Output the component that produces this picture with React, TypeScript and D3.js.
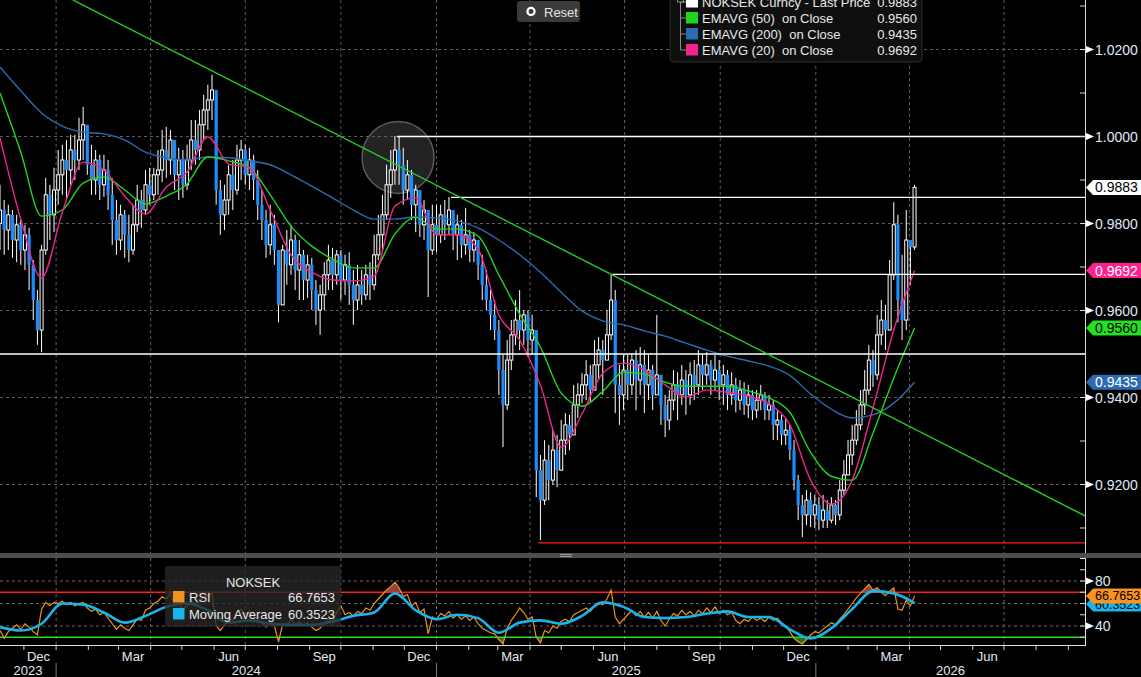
import React from "react";
import * as d3 from "d3";

// ---------- time layout ----------
const START = new Date(2023, 10, 8);
const AXIS_END = new Date(2026, 8, 17);
const CANDLE_STEP_DAYS = 4;
const LINE_STEP_DAYS = 20;

// ---------- price data (in 1/10000, e.g. 9883 = 0.9883) ----------
const firstOpen = 9800;
const closes = [
  9831, 9785, 9820, 9762, 9797, 9739, 9774, 9705, 9624, 9555, 9739,
  9866, 9820, 9877, 9912, 9946, 9923, 9969, 9946, 9992, 10027,
  9935, 9900, 9946, 9889, 9923, 9866, 9808, 9762, 9820, 9774,
  9739, 9797, 9854, 9831, 9889, 9866, 9912, 9923, 9969, 9946,
  9992, 9912, 9946, 9889, 9946, 9992, 9969, 10027, 10061, 10084,
  10107, 9877, 9820, 9854, 9912, 9877, 9946, 9969, 9912, 9946,
  9900, 9843, 9808, 9751, 9797, 9739, 9613, 9739, 9705, 9762,
  9693, 9728, 9670, 9705, 9647, 9601, 9636, 9682, 9716, 9682,
  9728, 9670, 9705, 9659, 9624, 9659, 9636, 9682, 9659, 9728,
  9774, 9820, 9889, 9923, 9969, 9935, 9877, 9912, 9843, 9877,
  9797, 9831, 9739, 9797, 9774, 9820, 9797, 9831, 9774, 9797,
  9751, 9774, 9739, 9762, 9705, 9659, 9624, 9590, 9555, 9463,
  9383, 9486, 9544, 9578, 9555, 9590, 9532, 9555, 9233, 9164,
  9256, 9210, 9279, 9233, 9302, 9337, 9314, 9383, 9406, 9429,
  9452, 9417, 9475, 9509, 9486, 9544, 9624, 9429, 9406, 9463,
  9429, 9486, 9440, 9475, 9429, 9463, 9406, 9452, 9383, 9348,
  9394, 9429, 9406, 9440, 9406, 9452, 9429, 9475, 9452, 9475,
  9440, 9463, 9429, 9452, 9406, 9429, 9394, 9417, 9383, 9406,
  9371, 9394, 9406, 9371, 9383, 9337, 9348, 9314, 9325, 9279,
  9210, 9153, 9130, 9164, 9130, 9153, 9118, 9141, 9118, 9153,
  9130, 9187, 9222, 9268, 9302, 9337, 9383, 9417, 9486, 9452,
  9544, 9578, 9555, 9682, 9797, 9624, 9578, 9762, 9746, 9883,
];
const highs = [
  9889, 9854, 9843, 9831, 9820, 9808, 9797, 9790, 9716, 9647, 9751,
  9905, 9889, 9928, 9969, 9981, 9992, 10004, 10004, 10043, 10068,
  10015, 9981, 9969, 9958, 9958, 9946, 9905, 9854, 9843, 9831,
  9820, 9843, 9889, 9877, 9923, 9928, 9928, 9969, 10015, 10022,
  10015, 9981, 9974, 9969, 9981, 10038, 10038, 10061, 10096, 10119,
  10142, 10096, 9900, 9889, 9935, 9946, 9981, 9992, 9981, 9974,
  9958, 9923, 9877, 9831, 9843, 9820, 9728, 9751, 9785, 9797,
  9774, 9762, 9739, 9728, 9721, 9670, 9659, 9711, 9751, 9744,
  9739, 9739, 9728, 9734, 9693, 9705, 9693, 9705, 9711, 9774,
  9820, 9866, 9935, 9969, 10001, 10001, 9974, 9946, 9923, 9889,
  9877, 9854, 9831, 9843, 9843, 9843, 9854, 9861, 9831, 9820,
  9808, 9836, 9785, 9780, 9751, 9728, 9693, 9647, 9624, 9578,
  9498, 9532, 9578, 9624, 9647, 9601, 9601, 9590, 9509, 9268,
  9302, 9291, 9325, 9314, 9348, 9364, 9360, 9429, 9433, 9456,
  9486, 9475, 9532, 9539, 9532, 9601, 9682, 9647, 9475, 9498,
  9498, 9502, 9509, 9516, 9509, 9498, 9475, 9590, 9452, 9406,
  9417, 9463, 9458, 9475, 9463, 9481, 9486, 9509, 9498, 9504,
  9486, 9498, 9486, 9475, 9463, 9458, 9445, 9440, 9435, 9429,
  9417, 9417, 9429, 9412, 9406, 9394, 9371, 9360, 9353, 9337,
  9302, 9222, 9176, 9187, 9182, 9176, 9171, 9176, 9164, 9171,
  9164, 9210, 9256, 9302, 9337, 9371, 9417, 9463, 9521, 9509,
  9590, 9624, 9613, 9716, 9849, 9820, 9728, 9831, 9751, 9889,
];
const lows = [
  9739, 9728, 9739, 9721, 9711, 9705, 9693, 9647, 9578, 9521, 9504,
  9728, 9762, 9780, 9843, 9866, 9854, 9889, 9900, 9923, 9946,
  9912, 9866, 9866, 9854, 9861, 9831, 9751, 9728, 9739, 9721,
  9711, 9728, 9780, 9790, 9820, 9843, 9854, 9866, 9895, 9905,
  9912, 9877, 9854, 9859, 9877, 9923, 9935, 9946, 9992, 10015,
  10038, 9843, 9774, 9785, 9820, 9831, 9866, 9900, 9889, 9877,
  9854, 9808, 9762, 9721, 9728, 9705, 9573, 9624, 9659, 9682,
  9647, 9624, 9624, 9629, 9601, 9567, 9544, 9601, 9647, 9647,
  9659, 9624, 9636, 9613, 9567, 9601, 9613, 9624, 9624, 9647,
  9716, 9739, 9808, 9859, 9889, 9889, 9843, 9854, 9808, 9780,
  9769, 9762, 9631, 9728, 9734, 9755, 9762, 9774, 9739, 9716,
  9721, 9728, 9711, 9711, 9670, 9624, 9601, 9555, 9532, 9406,
  9286, 9371, 9463, 9521, 9509, 9521, 9493, 9498, 9171, 9072,
  9153, 9164, 9199, 9194, 9256, 9268, 9279, 9348, 9353, 9387,
  9394, 9389, 9429, 9440, 9406, 9509, 9532, 9364, 9337, 9371,
  9394, 9406, 9371, 9406, 9364, 9394, 9371, 9406, 9337, 9309,
  9325, 9371, 9348, 9383, 9360, 9383, 9394, 9406, 9417, 9429,
  9406, 9417, 9394, 9383, 9371, 9383, 9366, 9371, 9360, 9353,
  9348, 9353, 9371, 9348, 9348, 9302, 9302, 9291, 9291, 9256,
  9187, 9118, 9079, 9107, 9102, 9100, 9095, 9100, 9100, 9111,
  9107, 9118, 9176, 9222, 9245, 9291, 9325, 9360, 9406, 9424,
  9440, 9521, 9509, 9624, 9670, 9573, 9532, 9555, 9659, 9739,
];

// ---------- moving averages (every 20 days, from START) ----------
const ema20 = [
  9997, 9810, 9675, 9826, 9941, 9923, 9863, 9822, 9884, 9918,
  9999, 9937, 9928, 9831, 9728, 9688, 9670, 9668, 9679, 9840,
  9859, 9774, 9774, 9741, 9590, 9532, 9429, 9286, 9362, 9456,
  9479, 9463, 9429, 9401, 9417, 9412, 9403, 9385, 9337, 9210,
  9155, 9210, 9376, 9555, 9692,
];
const ema50 = [
  10100, 9964, 9817, 9831, 9893, 9907, 9877, 9845, 9863, 9891,
  9953, 9944, 9928, 9866, 9794, 9748, 9718, 9698, 9698, 9776,
  9814, 9787, 9787, 9771, 9682, 9592, 9516, 9410, 9380, 9414,
  9458, 9454, 9435, 9426, 9426, 9426, 9415, 9399, 9366, 9274,
  9219, 9210, 9318, 9445, 9560,
];
const ema200 = [
  10160, 10105, 10054, 10024, 10010, 10006, 9992, 9964, 9951, 9946,
  9953, 9951, 9944, 9935, 9912, 9886, 9859, 9831, 9810, 9810,
  9815, 9813, 9806, 9790, 9762, 9728, 9688, 9642, 9599, 9576,
  9567, 9553, 9541, 9525, 9509, 9495, 9484, 9472, 9451, 9408,
  9373, 9353, 9360, 9387, 9435,
];

// ---------- RSI ----------
const rsi = [
  36, 29, 35, 38, 41, 37, 42, 39, 35, 32, 55,
  61, 58, 61, 60, 62, 59, 61, 58, 60, 61,
  56, 53, 55, 50, 52, 47, 42, 37, 41, 38,
  36, 41, 46, 45, 54, 56, 60, 62, 66, 64,
  69, 58, 60, 55, 58, 62, 59, 62, 65, 67,
  69, 40, 36, 41, 47, 45, 52, 55, 50, 53,
  49, 46, 43, 39, 44, 40, 26, 42, 40, 46,
  41, 44, 40, 43, 39, 36, 38, 43, 46, 43,
  52, 58, 50, 52, 49, 53, 51, 56, 54, 60,
  64, 68, 72, 75, 79, 74, 66, 68, 58, 61,
  52, 55, 33, 48, 46, 51, 49, 53, 47, 50,
  46, 49, 45, 48, 42, 38, 36, 34, 33, 28,
  24, 38, 45, 50, 56, 52, 46, 48, 30, 25,
  36, 34, 40, 38, 44, 46, 44, 50, 52, 54,
  56, 53, 58, 61, 59, 64, 72, 48, 42, 46,
  50, 54, 49, 53, 48, 52, 47, 53, 45, 40,
  46, 51, 49, 54, 50, 53, 49, 54, 51, 56,
  52, 57, 51, 54, 50, 52, 45, 42, 46, 44,
  48, 45, 47, 44, 48, 45, 47, 43, 40, 35,
  29, 26, 24, 28, 32, 35, 34, 37, 40, 43,
  41, 46, 50, 55, 60, 65, 69, 73, 77, 72,
  74, 70, 67, 71, 74, 55, 54, 63, 58, 66.7653,
];
const rsiMA = [
  39, 36, 42, 60, 59, 52, 43, 49, 57, 60,
  54, 43, 45, 42, 41, 41, 44, 49, 52, 69,
  54, 46, 50, 47, 34, 43, 45, 42, 49, 61,
  57, 48, 47, 48, 51, 53, 48, 48, 37, 29,
  38, 55, 71, 69, 60.3523,
];

// ---------- axes / annotations ----------
const priceTicks = [0.92, 0.94, 0.96, 0.98, 1.0, 1.02];
const priceMinor = [0.91, 0.93, 0.95, 0.97, 0.99, 1.01, 1.03];
const rsiTicks = [40, 80];
const rsiMinor = [30, 50, 60, 70, 90, 100];
const rsiGrid = [40, 60, 80];
const levelLines = [
  { value: 1.0, from: "2024-11-24", color: "#ffffff" },
  { value: 0.986, from: "2025-01-15", color: "#ffffff" },
  { value: 0.9683, from: "2025-06-19", color: "#ffffff" },
  { value: 0.95, from: "2023-11-08", color: "#ffffff" },
  { value: 0.9066, from: "2025-04-09", color: "#ff2020" },
];
const trendPoints = [
  { date: "2024-01-17", value: 1.0314 },
  { date: "2026-09-17", value: 0.9128 },
];
const circleMark = { date: "2024-11-25", value: 0.9952 };

const FONT = "'Liberation Sans', Arial, sans-serif";
const AXIS_TXT = "#e1e9f5";
const C_EMA20 = "#f0248c";
const C_EMA50 = "#1fd61f";
const C_EMA200 = "#2d6bb0";
const C_RSI = "#f0921e";
const C_MA = "#19b4ea";

const pd = (s: string) => d3.timeParse("%Y-%m-%d")(s) as Date;

export default function App() {
  const W = 1141, H = 677;
  const PR = 1085;
  const MAIN_BOT = 553;
  const RSI_TOP = 558, RSI_BOT = 646;

  const x = d3.scaleTime().domain([START, AXIS_END]).range([0, PR]);
  const y = d3.scaleLinear().domain([0.92, 1.02]).range([484.5, 49.5]);
  const yr = d3.scaleLinear().domain([40, 80]).range([626, 581]);

  const cDate = (i: number) => d3.timeDay.offset(START, i * CANDLE_STEP_DAYS);
  const lDate = (k: number) => d3.timeDay.offset(START, k * LINE_STEP_DAYS);

  const priceLine = d3
    .line<number>()
    .x((_, k) => x(lDate(k)))
    .y((v) => y(v / 10000))
    .curve(d3.curveMonotoneX);

  const rsiLine = d3
    .line<number>()
    .x((_, i) => x(cDate(i)))
    .y((v) => yr(v));
  const maLine = d3
    .line<number>()
    .x((_, k) => x(lDate(k)))
    .y((v) => yr(v))
    .curve(d3.curveMonotoneX);
  const rsiArea = (base: number) =>
    d3
      .area<number>()
      .x((_, i) => x(cDate(i)))
      .y0(yr(base))
      .y1((v) => yr(v));

  const quarters = d3.timeMonth
    .every(3)!
    .range(new Date(2024, 0, 1), AXIS_END);
  const months = d3.timeMonth.range(d3.timeMonth.ceil(START), AXIS_END);
  const monthLabels = months
    .filter((m) => [11, 2, 5, 8].includes(m.getMonth()))
    .map((m) => ({ d: new Date(m.getFullYear(), m.getMonth(), 15), t: d3.timeFormat("%b")(m) }))
    .filter((o) => x(o.d) < 1060);
  const years = [2023, 2024, 2025, 2026].map((yy) => {
    const a = Math.max(+START, +new Date(yy, 0, 1));
    const b = Math.min(+AXIS_END, +new Date(yy + 1, 0, 1));
    return { yy, cx: (x(new Date(a)) + x(new Date(b))) / 2 };
  });
  const yearStarts = [2024, 2025, 2026].map((yy) => new Date(yy, 0, 1));

  const fmt4 = d3.format(".4f");
  const last = (a: number[]) => a[a.length - 1];

  const tag = (yc: number, fill: string, txtFill: string, label: string, key: string, fs = 14) => (
    <g key={key}>
      <path
        d={`M1086,${yc} L1093,${yc - 7.5} L1141,${yc - 7.5} L1141,${yc + 7.5} L1093,${yc + 7.5} Z`}
        fill={fill}
      />
      <text x={1095} y={yc} dy="0.36em" fontSize={fs} fill={txtFill} fontFamily={FONT}>
        {label}
      </text>
    </g>
  );

  const tp = trendPoints.map((p) => [x(pd(p.date)), y(p.value)]);

  const legendRows = [
    { c: "#ffffff", t: "NOKSEK Curncy - Last Price", v: fmt4(last(closes) / 10000) },
    { c: C_EMA50, t: "EMAVG (50)  on Close", v: fmt4(last(ema50) / 10000) },
    { c: C_EMA200, t: "EMAVG (200)  on Close", v: fmt4(last(ema200) / 10000) },
    { c: C_EMA20, t: "EMAVG (20)  on Close", v: fmt4(last(ema20) / 10000) },
  ];

  return (
    <div style={{ width: W, height: H, background: "#000" }}>
      <style>{"html,body{margin:0;padding:0;background:#000;overflow:hidden}"}</style>
      <svg width={W} height={H} style={{ display: "block" }} fontFamily={FONT}>
        <defs>
          <clipPath id="mainClip">
            <rect x={0} y={0} width={PR} height={MAIN_BOT} />
          </clipPath>
          <clipPath id="rsiClip">
            <rect x={0} y={RSI_TOP} width={PR} height={RSI_BOT - RSI_TOP} />
          </clipPath>
          <clipPath id="obClip">
            <rect x={0} y={RSI_TOP} width={PR} height={yr(70) - RSI_TOP} />
          </clipPath>
          <clipPath id="osClip">
            <rect x={0} y={yr(30)} width={PR} height={RSI_BOT - yr(30)} />
          </clipPath>
        </defs>
        <rect x={0} y={0} width={W} height={H} fill="#000" />

        {/* ---------- main panel ---------- */}
        <g clipPath="url(#mainClip)">
          {priceTicks.map((t) => (
            <line key={"hg" + t} x1={0} x2={PR} y1={y(t)} y2={y(t)} stroke="#5e5e5e" strokeDasharray="3,3" />
          ))}
          {quarters.map((q) => (
            <line key={"vg" + +q} x1={x(q)} x2={x(q)} y1={0} y2={MAIN_BOT} stroke="#5e5e5e" strokeDasharray="3,3" />
          ))}

          {/* highlight circle */}
          <circle
            cx={x(pd(circleMark.date))}
            cy={y(circleMark.value)}
            r={36}
            fill="rgba(110,110,110,0.32)"
            stroke="#5a5a5a"
            strokeWidth={1.5}
          />

          {/* candles */}
          {closes.map((c, i) => {
            const o = i === 0 ? firstOpen : closes[i - 1];
            const up = c >= o;
            const cx = x(cDate(i));
            const top = y(Math.max(o, c) / 10000);
            const bot = y(Math.min(o, c) / 10000);
            const h = Math.max(1, bot - top);
            return (
              <g key={"c" + i}>
                <line x1={cx} x2={cx} y1={y(highs[i] / 10000)} y2={y(lows[i] / 10000)} stroke="#ffffff" strokeWidth={1} />
                {up ? (
                  <rect x={cx - 1.5} y={top} width={3} height={h} fill="#000" stroke="#ffffff" strokeWidth={1} />
                ) : (
                  <rect x={cx - 1.6} y={top} width={3.2} height={h} fill="#1b8cff" />
                )}
              </g>
            );
          })}

          {/* moving averages */}
          <path d={priceLine(ema200)!} fill="none" stroke={C_EMA200} strokeWidth={1.4} />
          <path d={priceLine(ema50)!} fill="none" stroke={C_EMA50} strokeWidth={1.4} />
          <path d={priceLine(ema20)!} fill="none" stroke={C_EMA20} strokeWidth={1.4} />

          {/* levels */}
          {levelLines.map((l) => (
            <line
              key={"lv" + l.value}
              x1={x(pd(l.from))}
              x2={PR}
              y1={y(l.value)}
              y2={y(l.value)}
              stroke={l.color}
              strokeWidth={1.3}
            />
          ))}
          <line x1={tp[0][0]} y1={tp[0][1]} x2={tp[1][0]} y2={tp[1][1]} stroke="#22d022" strokeWidth={1.4} />
        </g>

        {/* main right axis */}
        <line x1={PR + 0.5} x2={PR + 0.5} y1={0} y2={MAIN_BOT} stroke="#d8d8d8" />
        {priceMinor.map((t) => (
          <line key={"pm" + t} x1={PR - 5} x2={PR} y1={y(t)} y2={y(t)} stroke="#d8d8d8" />
        ))}
        {priceTicks.map((t) => (
          <g key={"pt" + t}>
            <line x1={PR - 5} x2={PR} y1={y(t)} y2={y(t)} stroke="#d8d8d8" />
            <path d={`M${PR + 1},${y(t) - 3.5} L${PR + 9},${y(t)} L${PR + 1},${y(t) + 3.5} Z`} fill="#ffffff" />
            <text x={PR + 10} y={y(t)} dy="0.36em" fontSize={14} fill={AXIS_TXT}>
              {fmt4(t)}
            </text>
          </g>
        ))}
        {tag(y(last(closes) / 10000), "#ffffff", "#000", fmt4(last(closes) / 10000), "t1")}
        {tag(y(last(ema20) / 10000), "#ff1f8f", "#ffffff", fmt4(last(ema20) / 10000), "t2")}
        {tag(y(last(ema50) / 10000), "#22e022", "#000", fmt4(last(ema50) / 10000), "t3")}
        {tag(y(last(ema200) / 10000), "#2d6bb0", "#ffffff", fmt4(last(ema200) / 10000), "t4")}

        {/* top legend */}
        <g>
          <rect x={670} y={-6} width={252} height={68} rx={4} fill="#0f0f0f" stroke="#2e2e2e" />
          <line x1={680.5} x2={680.5} y1={0} y2={50} stroke="#8a8a8a" />
          <rect x={677.5} y={-4} width={6} height={6} fill="#0f0f0f" stroke="#8a8a8a" />
          {legendRows.map((r, k) => {
            const base = 7 + k * 16;
            return (
              <g key={"lg" + k}>
                <line x1={680.5} x2={686} y1={base - 5} y2={base - 5} stroke="#8a8a8a" />
                <rect x={686} y={base - 11} width={12} height={11.5} fill={r.c} />
                <text x={702} y={base} fontSize={13} fill="#e8e8e8" style={{ whiteSpace: "pre" }}>
                  {r.t}
                </text>
                <text x={917} y={base} fontSize={13} fill="#e8e8e8" textAnchor="end">
                  {r.v}
                </text>
              </g>
            );
          })}
        </g>

        {/* reset button */}
        <g>
          <rect x={517} y={1} width={63} height={21} rx={3} fill="#3a3a3a" />
          <circle cx={531} cy={11.5} r={3.6} fill="none" stroke="#ffffff" strokeWidth={2.3} />
          <text x={544} y={16.5} fontSize={13} fill="#e4e4e4">
            Reset
          </text>
        </g>

        {/* separator */}
        <rect x={0} y={MAIN_BOT} width={W} height={5} fill="#4d4d4d" />
        <line x1={560} x2={572} y1={554.5} y2={554.5} stroke="#9a9a9a" />
        <line x1={560} x2={572} y1={556.5} y2={556.5} stroke="#9a9a9a" />

        {/* ---------- RSI panel ---------- */}
        <g clipPath="url(#rsiClip)">
          {rsiGrid.map((t) => (
            <line key={"rg" + t} x1={0} x2={PR} y1={yr(t)} y2={yr(t)} stroke="#666" strokeDasharray="3,3" />
          ))}
          {quarters.map((q) => (
            <line key={"rvg" + +q} x1={x(q)} x2={x(q)} y1={RSI_TOP} y2={RSI_BOT} stroke="#666" strokeDasharray="3,3" />
          ))}
          <g clipPath="url(#obClip)">
            <path d={rsiArea(70)(rsi)!} fill="#9a4f48" opacity={0.9} />
          </g>
          <g clipPath="url(#osClip)">
            <path d={rsiArea(30)(rsi)!} fill="#2f7a2f" opacity={0.9} />
          </g>
          <line x1={0} x2={PR} y1={yr(70)} y2={yr(70)} stroke="#ff1e1e" strokeWidth={1.3} />
          <line x1={0} x2={PR} y1={yr(30)} y2={yr(30)} stroke="#22e022" strokeWidth={1.3} />
          <path d={rsiLine(rsi)!} fill="none" stroke={C_RSI} strokeWidth={1.2} />
          <path d={maLine(rsiMA)!} fill="none" stroke={C_MA} strokeWidth={2.6} />
        </g>

        {/* RSI legend */}
        <g>
          <rect x={165} y={566} width={176} height={61} rx={3} fill="rgba(40,40,40,0.78)" />
          <text x={253} y={587} fontSize={13} fill="#e8e8e8" textAnchor="middle">
            NOKSEK
          </text>
          <rect x={173} y={591} width={11.5} height={11.5} fill={C_RSI} />
          <text x={189} y={602} fontSize={13} fill="#e8e8e8">
            RSI
          </text>
          <text x={335} y={602} fontSize={13} fill="#e8e8e8" textAnchor="end">
            {d3.format(".4f")(last(rsi))}
          </text>
          <rect x={173} y={608} width={11.5} height={11.5} fill={C_MA} />
          <text x={189} y={619} fontSize={13} fill="#e8e8e8">
            Moving Average
          </text>
          <text x={335} y={619} fontSize={13} fill="#e8e8e8" textAnchor="end">
            {d3.format(".4f")(last(rsiMA))}
          </text>
        </g>

        {/* RSI axes */}
        <line x1={PR + 0.5} x2={PR + 0.5} y1={RSI_TOP} y2={RSI_BOT} stroke="#e0e0e0" />
        <line x1={0} x2={PR + 0.5} y1={RSI_BOT - 0.5} y2={RSI_BOT - 0.5} stroke="#e0e0e0" />
        {rsiMinor.map((t) => (
          <line key={"rm" + t} x1={PR - 5} x2={PR} y1={yr(t)} y2={yr(t)} stroke="#d8d8d8" />
        ))}
        {rsiTicks.map((t) => (
          <g key={"rt" + t}>
            <line x1={PR - 5} x2={PR} y1={yr(t)} y2={yr(t)} stroke="#d8d8d8" />
            <path d={`M${PR + 1},${yr(t) - 3.5} L${PR + 9},${yr(t)} L${PR + 1},${yr(t) + 3.5} Z`} fill="#ffffff" />
            <text x={PR + 10} y={yr(t)} dy="0.36em" fontSize={14} fill={AXIS_TXT}>
              {t}
            </text>
          </g>
        ))}
        {tag(yr(last(rsiMA)) + 1, C_MA, "#000", d3.format(".4f")(last(rsiMA)), "r2", 12.5)}
        {tag(yr(last(rsi)), "#f7931e", "#000", d3.format(".4f")(last(rsi)), "r1", 12.5)}

        {/* time axis */}
        {months.map((m) => (
          <line key={"mt" + +m} x1={x(m)} x2={x(m)} y1={RSI_BOT} y2={RSI_BOT + 4} stroke="#d8d8d8" />
        ))}
        {monthLabels.map((o) => (
          <text key={"ml" + +o.d} x={x(o.d)} y={661} fontSize={13} fill={AXIS_TXT} textAnchor="middle">
            {o.t}
          </text>
        ))}
        {yearStarts.map((d) => (
          <line key={"ys" + +d} x1={x(d)} x2={x(d)} y1={663} y2={H} stroke="#7a7a7a" />
        ))}
        {years.map((o) => (
          <text key={"yl" + o.yy} x={o.cx} y={674.5} fontSize={13} fill={AXIS_TXT} textAnchor="middle">
            {o.yy}
          </text>
        ))}
      </svg>
    </div>
  );
}
